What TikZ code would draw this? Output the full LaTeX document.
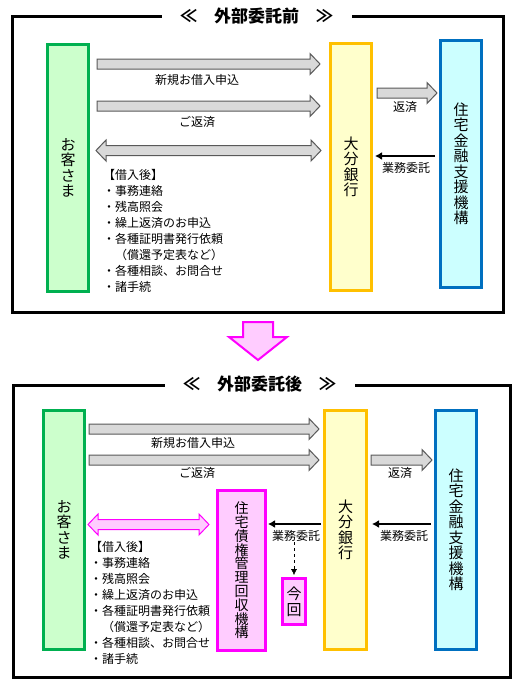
\documentclass[tikz,border=0pt]{standalone}
\usepackage{fontspec}
\setmainfont{Noto Sans CJK JP}
\usepackage{tikz}
\usetikzlibrary{positioning,arrows.meta,calc}
\definecolor{custcol}{HTML}{00B050}
\definecolor{custfill}{HTML}{CCFFCC}
\definecolor{bankcol}{HTML}{FFC000}
\definecolor{bankfill}{HTML}{FFFFCC}
\definecolor{jhfcol}{HTML}{0070C0}
\definecolor{jhffill}{HTML}{CCFFFF}
\definecolor{svccol}{HTML}{FF00FF}
\definecolor{svcfill}{HTML}{FFCCFF}
\definecolor{arrfill}{HTML}{D9D9D9}
\definecolor{arrline}{HTML}{595959}
\makeatletter
\newcommand{\tate}[1]{% #1 text, one character per line
  \vbox{\@tfor\tch:=#1\do{\hbox to 1em{\hss\tch\hss}}}}
\makeatother
\newcommand{\rarrow}[6][blockarr]{% #1 style, #2 tail node, #3 head node, #4 y, #5 #6 gaps
  \draw[#1] let \p1=($(#2.east|-0,#4)+(#5,0)$), \p2=($(#3.west|-0,#4)-(#6,0)$) in
    (\x1,\y1+5pt) -- (\x2-10pt,\y1+5pt) -- (\x2-10pt,\y1+10.5pt) -- (\x2,\y1)
    -- (\x2-10pt,\y1-10.5pt) -- (\x2-10pt,\y1-5pt) -- (\x1,\y1-5pt) -- cycle;
}
\newcommand{\darrow}[6][blockarr]{% #1 style, #2 left node, #3 right node, #4 y, #5 #6 gaps
  \draw[#1] let \p1=($(#2.east|-0,#4)+(#5,0)$), \p2=($(#3.west|-0,#4)-(#6,0)$) in
    (\x1,\y1) -- (\x1+10pt,\y1+10.5pt) -- (\x1+10pt,\y1+5pt) -- (\x2-10pt,\y1+5pt)
    -- (\x2-10pt,\y1+10.5pt) -- (\x2,\y1) -- (\x2-10pt,\y1-10.5pt) -- (\x2-10pt,\y1-5pt)
    -- (\x1+10pt,\y1-5pt) -- (\x1+10pt,\y1-10.5pt) -- cycle;
}

\begin{document}
\begin{tikzpicture}[x=1pt,y=-1pt,
    blockarr/.style={fill=arrfill, draw=arrline, line width=1pt},
    pinkarr/.style={fill=svcfill, draw=svccol, line width=1pt},
    tatebox/.style={draw, line width=3pt, inner sep=0pt, font=\fontsize{15}{15.5}\selectfont},
    custbox/.style={tatebox, draw=custcol, fill=custfill},
    bankbox/.style={tatebox, draw=bankcol, fill=bankfill},
    jhfbox/.style={tatebox, draw=jhfcol, fill=jhffill},
    svcbox/.style={tatebox, draw=svccol, fill=svcfill},
    frame/.style={draw, line width=3pt},
    ttl/.style={fill=white, font=\fontsize{17}{17}\selectfont\bfseries, minimum width=190},
    lbl/.style={inner sep=0pt, font=\fontsize{12}{14}\selectfont},
    note/.style={inner sep=0pt, anchor=north west, align=left, font=\fontsize{12}{16}\selectfont},
    ctl/.style={line width=2pt, -{Latex[length=7pt,width=8pt]}}]
  \useasboundingbox (0,0) rectangle (525,688);

  % before
  \draw[frame] (12,16) rectangle (503,312);
  \node[ttl] (T1) at (256.5,16.5) {≪　外部委託前　≫};
  \node[custbox, minimum width=41, minimum height=247] (C1) at (68,168) {\tate{お客さま}};
  \node[bankbox, minimum width=41, minimum height=247] (B1) at (351,167) {\tate{大分銀行}};
  \node[jhfbox, minimum width=41, minimum height=247] (J1) at (461,164) {\tate{住宅金融支援機構}};
  \rarrow{C1}{B1}{64}{7}{9}
  \rarrow{C1}{B1}{106}{7}{9}
  \darrow{C1}{B1}{150.5}{6}{8}
  \rarrow{B1}{J1}{93}{4}{2}
  \draw[ctl, shorten <=4pt, shorten >=2pt] (J1.west|-0,156) -- (B1.east|-0,156);
  \node[lbl] (L1) at (197,80) {新規お借入申込};
  \node[lbl] (L2) at (197,122) {ご返済};
  \node[lbl] (L3) at (405,107) {返済};
  \node[lbl] (L4) at (406,168) {業務委託};
  \node[note] (N1) at (103,169) {【借入後】\\・事務連絡\\・残高照会\\・繰上返済のお申込\\・各種証明書発行依頼\\　（償還予定表など）\\・各種相談、お問合せ\\・諸手続};

  % change
  \draw[svccol, fill=svcfill, line width=2pt] (243,322) -- (273,322) -- (273,337) -- (287,337)
    -- (258,360) -- (229,337) -- (243,337) -- cycle;

  % after
  \draw[frame] (13,385) rectangle (510,677);
  \node[ttl] (T2) at (259.5,384) {≪　外部委託後　≫};
  \node[custbox, minimum width=41, minimum height=239] (C2) at (64,530) {\tate{お客さま}};
  \node[bankbox, minimum width=42, minimum height=239] (B2) at (345.5,530) {\tate{大分銀行}};
  \node[jhfbox, minimum width=41, minimum height=239] (J2) at (456,530) {\tate{住宅金融支援機構}};
  \node[svcbox, minimum width=48, minimum height=160, font=\fontsize{14}{13.8}\selectfont] (S2) at (241.5,570.5) {\tate{住宅債権管理回収機構}};
  \node[svcbox, minimum width=23, minimum height=46, font=\fontsize{15}{16}\selectfont] (K2) at (294,601.5) {\tate{今回}};
  \rarrow{C2}{B2}{429}{3}{4}
  \rarrow{C2}{B2}{460}{3}{4}
  \rarrow{B2}{J2}{460}{3}{2}
  \darrow[pinkarr]{C2}{S2}{524.5}{2}{7}
  \draw[ctl, shorten <=2pt, shorten >=1pt] (B2.west|-0,524) -- (S2.east|-0,524);
  \draw[ctl, shorten <=3pt, shorten >=4pt] (J2.west|-0,524) -- (B2.east|-0,524);
  \draw[dashed, -{Latex[length=6pt,width=6pt]}, shorten >=2pt] (K2.north|-0,542) -- (K2.north);
  \node[lbl] (M1) at (193,443) {新規お借入申込};
  \node[lbl] (M2) at (197,473) {ご返済};
  \node[lbl] (M3) at (400,473) {返済};
  \node[lbl] (M4) at (296,536) {業務委託};
  \node[lbl] (M5) at (404,536) {業務委託};
  \node[note] (N2) at (90,541) {【借入後】\\・事務連絡\\・残高照会\\・繰上返済のお申込\\・各種証明書発行依頼\\　（償還予定表など）\\・各種相談、お問合せ\\・諸手続};
\end{tikzpicture}
\end{document}
